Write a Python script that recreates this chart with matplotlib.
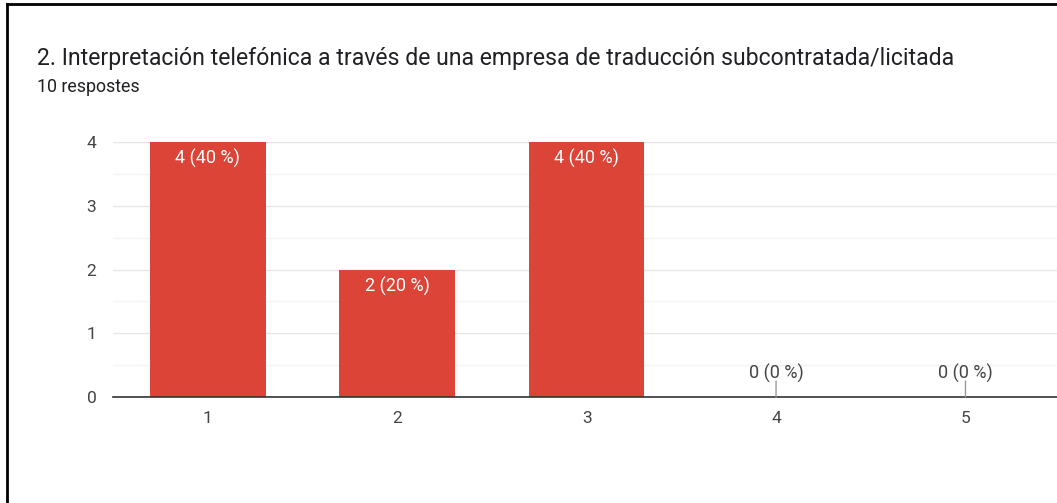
import matplotlib.pyplot as plt
from matplotlib.lines import Line2D

plt.rcParams['font.family'] = ['Roboto', 'DejaVu Sans']

categories = ['1', '2', '3', '4', '5']
counts = [4, 2, 4, 0, 0]
total = 10
title = "2. Interpretación telefónica a través de una empresa de traducción subcontratada/licitada"
subtitle = "10 respostes"

bar_color = '#db4437'
text_grey = '#444444'

fig = plt.figure(figsize=(10.57, 5.03), dpi=100)
ax = fig.add_axes([0.107, 0.2107, 0.896, 0.507])

x = list(range(1, len(categories) + 1))
ax.bar(x, counts, width=0.61, color=bar_color, zorder=3)

ax.set_xlim(0.5, 5.5)
ax.set_ylim(0, 4)
ax.set_yticks([0, 1, 2, 3, 4])
ax.set_yticks([0.5, 1.5, 2.5, 3.5], minor=True)
ax.set_xticks(x)
ax.set_xticklabels(categories)
ax.tick_params(axis='both', length=0, labelsize=12.5, colors=text_grey)
ax.tick_params(axis='y', pad=12)
ax.tick_params(axis='x', pad=10)
ax.tick_params(which='minor', length=0)

ax.grid(axis='y', which='major', color='#e6e6e6', linewidth=1, zorder=0)
ax.grid(axis='y', which='minor', color='#f3f3f3', linewidth=1, zorder=0)
for s in ['top', 'right', 'left']:
    ax.spines[s].set_visible(False)
ax.spines['bottom'].set_color('#333333')
ax.spines['bottom'].set_linewidth(1.2)
ax.spines['bottom'].set_zorder(4)

# value labels: inside the bar top, or above a short stem for zero values
for xi, c in zip(x, counts):
    label = f"{c} ({round(100 * c / total)} %)"
    if c > 0:
        ax.annotate(label, (xi, c), xytext=(0, -5), textcoords='offset points',
                    ha='center', va='top', color='white', fontsize=13, zorder=5)
    else:
        ax.annotate('', (xi, c), xytext=(0, 11.5), textcoords='offset points',
                    zorder=5, arrowprops=dict(arrowstyle='-', color='#999999',
                                              lw=1, shrinkA=0, shrinkB=0))
        ax.annotate(label, (xi, c), xytext=(0, 10), textcoords='offset points',
                    ha='center', va='bottom', color=text_grey, fontsize=13,
                    zorder=5)

fig.text(37 / 1057, 1 - 58 / 503, title, fontsize=16.6, color='#202124',
         ha='left', va='center')
fig.text(37 / 1057, 1 - 87 / 503, subtitle, fontsize=12.8, color='#202124',
         ha='left', va='center')

# page frame
fig.add_artist(Line2D([7 / 1057, 1], [1 - 4 / 503, 1 - 4 / 503],
                      color='black', linewidth=2, transform=fig.transFigure))
fig.add_artist(Line2D([7 / 1057, 7 / 1057], [0, 1 - 4 / 503],
                      color='black', linewidth=2, transform=fig.transFigure))

fig.savefig('out.png', dpi=100)
